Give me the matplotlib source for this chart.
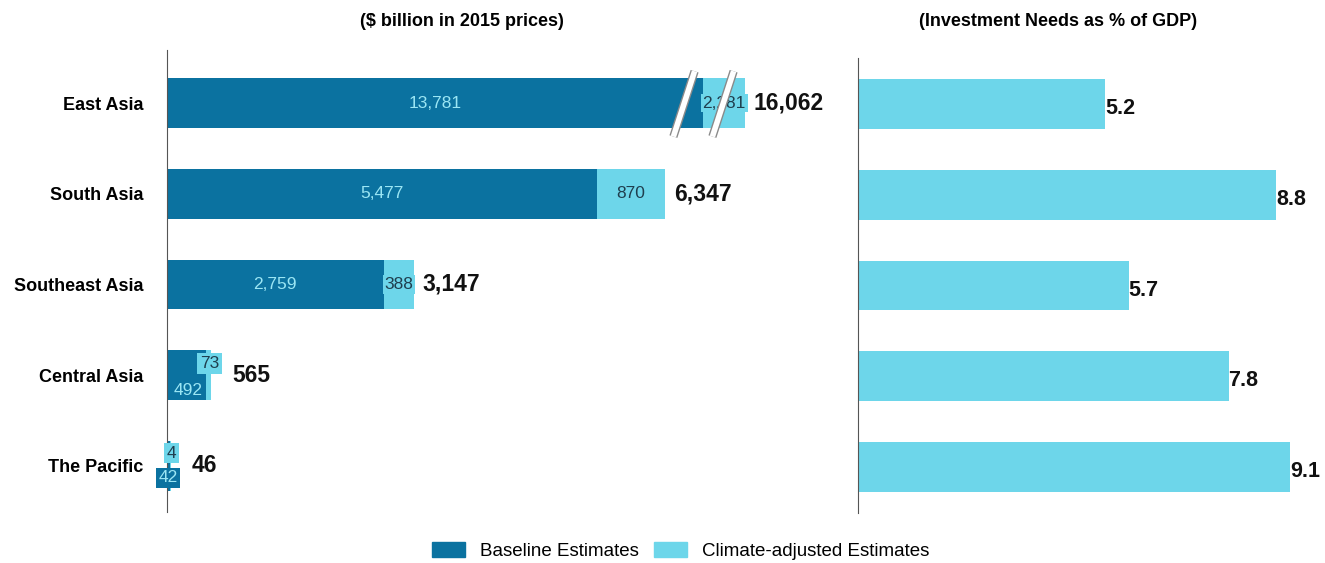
#!/usr/bin/env python3
"""Infrastructure investment needs by region, baseline vs climate-adjusted."""

import matplotlib
matplotlib.use("Agg")
import matplotlib.pyplot as plt
import matplotlib.patheffects as pe
from matplotlib.patches import Patch

regions = ["East Asia", "South Asia", "Southeast Asia", "Central Asia", "The Pacific"]
baseline = [13781, 5477, 2759, 492, 42]
climate = [2281, 870, 388, 73, 4]
totals = [16062, 6347, 3147, 565, 46]
gdp_share = [5.2, 8.8, 5.7, 7.8, 9.1]

# East Asia is drawn with a broken axis
break_baseline = 6830
break_climate = 535

DARK = "#0B72A0"
LIGHT = "#6DD6EA"
INNER = "#9BE6F4"
INNER_DARK = "#1F3F4F"

plt.rcParams["font.family"] = ["Liberation Sans", "DejaVu Sans"]

fig = plt.figure(figsize=(13.25, 5.63), dpi=100)
W, H = 1325, 563


def px_axes(left, top, right, bottom):
    return fig.add_axes([left / W, 1 - bottom / H, (right - left) / W, (bottom - top) / H])


ax1 = px_axes(167, 50, 845, 512)
ax2 = px_axes(858, 58, 1320, 513)

ypos = list(range(len(regions)))
h = 0.55

base_disp = [break_baseline if i == 0 else b for i, b in enumerate(baseline)]
clim_disp = [break_climate if i == 0 else c for i, c in enumerate(climate)]

ax1.barh(ypos, base_disp, height=h, color=DARK)
ax1.barh(ypos, clim_disp, left=base_disp, height=h, color=LIGHT)

for i in ypos:
    end = base_disp[i] + clim_disp[i]
    gap = 110 if i <= 2 else 270
    ax1.text(end + gap, i, f"{totals[i]:,}", ha="left", va="center",
             fontsize=16.5, fontweight="bold", color="#111111")
    if i <= 2:
        ax1.text(base_disp[i] / 2, i, f"{baseline[i]:,}", ha="center", va="center",
                 fontsize=12.5, color=INNER)
        ax1.text(base_disp[i] + clim_disp[i] / 2, i, f"{climate[i]:,}",
                 ha="center", va="center", fontsize=12.5, color=INNER_DARK,
                 bbox=dict(boxstyle="square,pad=0.1", fc=LIGHT, ec="none"))

# small regions: labels in boxes stacked vertically
ax1.text(base_disp[3] + 50, 3 - 0.13, f"{climate[3]}", ha="center", va="center",
         fontsize=12.5, color=INNER_DARK,
         bbox=dict(boxstyle="square,pad=0.15", fc=LIGHT, ec="none"))
ax1.text(base_disp[3] / 2 + 20, 3 + 0.17, f"{baseline[3]}", ha="center", va="center",
         fontsize=12.5, color=INNER,
         bbox=dict(boxstyle="square,pad=0.1", fc=DARK, ec="none"))
ax1.text(base_disp[4] + 20, 4 - 0.14, f"{climate[4]}", ha="center", va="center",
         fontsize=12.5, color=INNER_DARK,
         bbox=dict(boxstyle="square,pad=0.15", fc=LIGHT, ec="none"))
ax1.text(base_disp[4] - 30, 4 + 0.13, f"{baseline[4]}", ha="center", va="center",
         fontsize=12.5, color=INNER,
         bbox=dict(boxstyle="square,pad=0.15", fc=DARK, ec="none"))

# break marks on East Asia bar
for xc in (break_baseline - 244, break_baseline + 253):
    ax1.plot([xc - 135, xc + 135], [0.37, -0.35], color="white", lw=4,
             solid_capstyle="butt", clip_on=False, zorder=5,
             path_effects=[pe.Stroke(linewidth=6, foreground="#8a8a8a"), pe.Normal()])

ax1.set_xlim(0, (845 - 167) / 0.0785)
ax1.set_ylim(len(regions) - 1 + (512 - 466) / 90.75, -(103 - 50) / 90.75)
ax1.set_yticks(ypos)
ax1.set_yticklabels(regions, fontsize=13, fontweight="bold")
ax1.tick_params(axis="y", length=0, pad=17)
ax1.set_xticks([])
for s in ["top", "right", "bottom"]:
    ax1.spines[s].set_visible(False)
ax1.spines["left"].set_color("#555555")

ax2.barh(ypos, gdp_share, height=h, color=LIGHT)
for i, v in enumerate(gdp_share):
    ax2.text(v, i + 0.05, f"{v}", ha="left", va="center",
             fontsize=15.5, fontweight="bold", color="#111111")
ax2.set_xlim(0, (1320 - 858) / 47.5)
ax2.set_ylim(len(regions) - 1 + (513 - 467) / 90.75, -(104 - 58) / 90.75)
ax2.set_xticks([])
ax2.set_yticks([])
for s in ["top", "right", "bottom"]:
    ax2.spines[s].set_visible(False)
ax2.spines["left"].set_color("#555555")

fig.text(462 / W, 1 - 22 / H, "($ billion in 2015 prices)", ha="center", va="center",
         fontsize=13, fontweight="bold")
fig.text(1058 / W, 1 - 22 / H, "(Investment Needs as % of GDP)", ha="center", va="center",
         fontsize=13, fontweight="bold")

handles = [Patch(color=DARK, label="Baseline Estimates"),
           Patch(color=LIGHT, label="Climate-adjusted Estimates")]
fig.legend(handles=handles, loc="center", bbox_to_anchor=(681 / W, 1 - 551 / H),
           ncol=2, frameon=False, fontsize=13.5, handlelength=1.76, handleheight=0.8,
           handletextpad=0.8, columnspacing=0.8)

fig.savefig("out.png", dpi=100)
